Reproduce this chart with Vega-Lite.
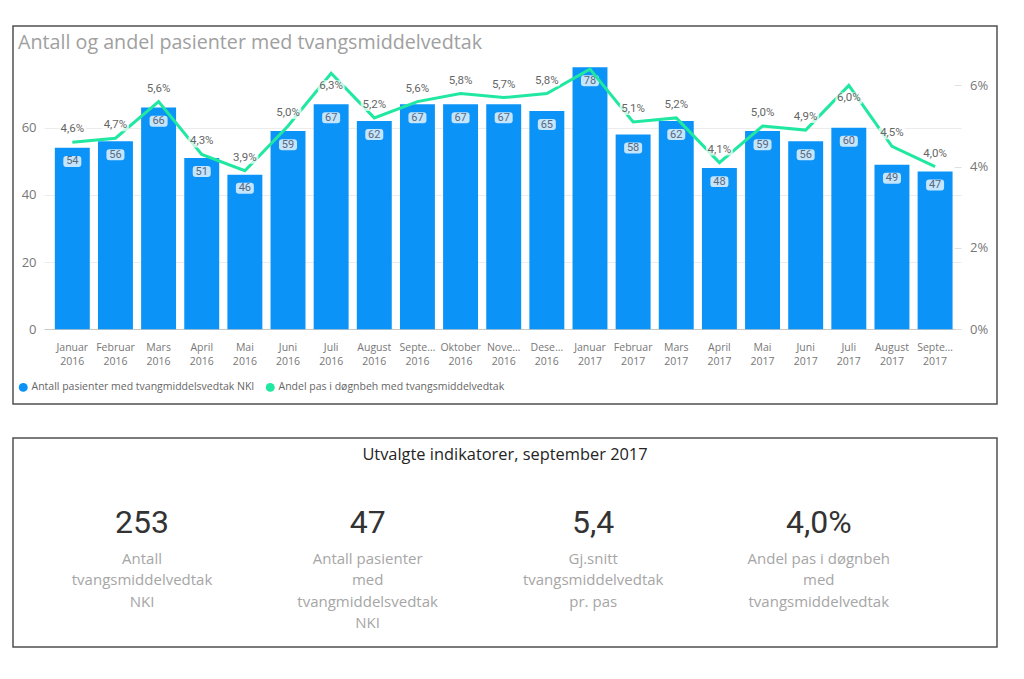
{
  "$schema": "https://vega.github.io/schema/vega-lite/v6.json",
  "background": "white",
  "padding": {"left": 12, "top": 25, "right": 0, "bottom": 0},
  "spacing": 32,
  "datasets": {
    "months": [
      {"maned": "Januar 2016", "antall": 54, "andel": 0.046},
      {"maned": "Februar 2016", "antall": 56, "andel": 0.047},
      {"maned": "Mars 2016", "antall": 66, "andel": 0.056},
      {"maned": "April 2016", "antall": 51, "andel": 0.043},
      {"maned": "Mai 2016", "antall": 46, "andel": 0.039},
      {"maned": "Juni 2016", "antall": 59, "andel": 0.050},
      {"maned": "Juli 2016", "antall": 67, "andel": 0.063},
      {"maned": "August 2016", "antall": 62, "andel": 0.052},
      {"maned": "September 2016", "antall": 67, "andel": 0.056},
      {"maned": "Oktober 2016", "antall": 67, "andel": 0.058},
      {"maned": "November 2016", "antall": 67, "andel": 0.057},
      {"maned": "Desember 2016", "antall": 65, "andel": 0.058},
      {"maned": "Januar 2017", "antall": 78, "andel": 0.064},
      {"maned": "Februar 2017", "antall": 58, "andel": 0.051},
      {"maned": "Mars 2017", "antall": 62, "andel": 0.052},
      {"maned": "April 2017", "antall": 48, "andel": 0.041},
      {"maned": "Mai 2017", "antall": 59, "andel": 0.050},
      {"maned": "Juni 2017", "antall": 56, "andel": 0.049},
      {"maned": "Juli 2017", "antall": 60, "andel": 0.060},
      {"maned": "August 2017", "antall": 49, "andel": 0.045},
      {"maned": "September 2017", "antall": 47, "andel": 0.040}
    ],
    "kpi": [
      {"etikett": "Antall\ntvangsmiddelvedtak\nNKI", "verdi": "253"},
      {"etikett": "Antall pasienter\nmed\ntvangmiddelsvedtak\nNKI", "verdi": "47"},
      {"etikett": "Gj.snitt\ntvangsmiddelvedtak\npr. pas", "verdi": "5,4"},
      {"etikett": "Andel pas i døgnbeh\nmed\ntvangsmiddelvedtak", "verdi": "4,0%"}
    ]
  },
  "vconcat": [
    {
      "width": 984,
      "height": 378,
      "title": {
        "text": "Antall og andel pasienter med tvangsmiddelvedtak",
        "anchor": "start",
        "frame": "group",
        "offset": -43,
        "baseline": "alphabetic",
        "dx": 5,
        "font": "Open Sans",
        "fontSize": 19.7,
        "fontWeight": "normal",
        "color": "#a0a0a0"
      },
      "data": {"name": "months"},
      "encoding": {
        "x": {
          "field": "maned",
          "type": "nominal",
          "sort": null,
          "title": null,
          "scale": {"paddingInner": 0.19, "paddingOuter": 1.208, "align": 0.485},
          "axis": {
            "orient": "bottom",
            "offset": -62,
            "ticks": false,
            "domain": false,
            "grid": false,
            "labelPadding": 0,
            "labelAngle": 0,
            "labelBaseline": "top",
            "labelFont": "Open Sans",
            "labelFontSize": 10.5,
            "labelColor": "#777777",
            "labelLineHeight": 14.5,
            "labelLimit": 42,
            "labelExpr": "split(datum.label, ' ')"
          }
        }
      },
      "layer": [
        {
          "layer": [
            {
              "mark": {"type": "bar"},
              "encoding": {
                "y": {
                  "field": "antall",
                  "type": "quantitative",
                  "title": null,
                  "scale": {"domain": [-22.23, 90.27], "nice": false, "zero": false},
                  "axis": {
                    "orient": "left",
                    "values": [0, 20, 40, 60],
                    "offset": -31,
                    "domain": false,
                    "grid": false,
                    "ticks": true,
                    "tickSize": -917,
                    "tickWidth": 1,
                    "tickColor": {"condition": {"test": "datum.value === 0", "value": "#c8c8c8"}, "value": "#ececec"},
                    "labelPadding": 925,
                    "labelFont": "Open Sans",
                    "labelFontSize": 13,
                    "labelColor": "#777777"
                  }
                },
                "y2": {"datum": 0},
                "color": {
                  "datum": "Antall pasienter med tvangmiddelsvedtak NKI",
                  "type": "nominal",
                  "scale": {
                    "domain": ["Antall pasienter med tvangmiddelsvedtak NKI", "Andel pas i døgnbeh med tvangsmiddelvedtak"],
                    "range": ["#0B93F8", "#20E8A0"]
                  },
                  "legend": {
                    "orient": "none",
                    "legendX": 5,
                    "legendY": 356,
                    "direction": "horizontal",
                    "title": null,
                    "symbolType": "circle",
                    "symbolSize": 80,
                    "symbolStrokeWidth": 0,
                    "labelFont": "Open Sans",
                    "labelFontSize": 10.5,
                    "labelColor": "#666666",
                    "labelOffset": 3,
                    "labelLimit": 400,
                    "columnPadding": 10,
                    "encode": {
                      "symbols": {"update": {"fill": {"scale": "color", "field": "value"}, "stroke": {"value": "transparent"}, "opacity": {"value": 1}}}
                    }
                  }
                }
              }
            },
            {
              "mark": {
                "type": "point",
                "shape": "M -0.67 -0.61 L 0.67 -0.61 Q 1 -0.61 1 -0.28 L 1 0.28 Q 1 0.61 0.67 0.61 L -0.67 0.61 Q -1 0.61 -1 0.28 L -1 -0.28 Q -1 -0.61 -0.67 -0.61 Z",
                "size": 324,
                "filled": true,
                "fill": "white",
                "fillOpacity": 0.76,
                "opacity": 1,
                "strokeWidth": 0,
                "yOffset": 13.6
              },
              "encoding": {
                "y": {"field": "antall", "type": "quantitative"}
              }
            },
            {
              "mark": {
                "type": "text",
                "font": "Roboto",
                "fontSize": 11,
                "color": "#5b6878",
                "baseline": "middle",
                "dy": 13.6
              },
              "encoding": {
                "y": {"field": "antall", "type": "quantitative"},
                "text": {"field": "antall", "type": "quantitative", "format": "d"}
              }
            }
          ]
        },
        {
          "layer": [
            {
              "mark": {"type": "line", "strokeWidth": 3},
              "encoding": {
                "y": {
                  "field": "andel",
                  "type": "quantitative",
                  "title": null,
                  "scale": {"domain": [-0.01838, 0.07461], "nice": false, "zero": false},
                  "axis": {
                    "orient": "right",
                    "values": [0, 0.02, 0.04, 0.06],
                    "format": ".0%",
                    "offset": -43,
                    "domain": false,
                    "grid": false,
                    "ticks": true,
                    "tickSize": 7,
                    "tickColor": "#e0e0e0",
                    "labelPadding": 8.5,
                    "labelFont": "Open Sans",
                    "labelFontSize": 13,
                    "labelColor": "#777777"
                  }
                },
                "color": {"datum": "Andel pas i døgnbeh med tvangsmiddelvedtak", "type": "nominal"}
              }
            },
            {
              "transform": [{"filter": "datum.andel < 0.0595"}],
              "mark": {
                "type": "point",
                "shape": "M -0.78 -0.444 L 0.78 -0.444 Q 1 -0.444 1 -0.222 L 1 0.222 Q 1 0.444 0.78 0.444 L -0.78 0.444 Q -1 0.444 -1 0.222 L -1 -0.222 Q -1 -0.444 -0.78 -0.444 Z",
                "size": 729,
                "filled": true,
                "fill": "white",
                "fillOpacity": 0.72,
                "opacity": 1,
                "strokeWidth": 0,
                "yOffset": -13
              },
              "encoding": {"y": {"field": "andel", "type": "quantitative"}}
            },
            {
              "transform": [{"filter": "datum.andel < 0.0595"}],
              "mark": {"type": "text", "font": "Roboto", "fontSize": 11.5, "color": "#666666", "baseline": "middle", "dy": -13},
              "encoding": {
                "y": {"field": "andel", "type": "quantitative"},
                "text": {"field": "andel", "type": "quantitative", "format": ".1%"}
              }
            },
            {
              "transform": [{"filter": "datum.andel >= 0.0595 && datum.andel < 0.0635"}],
              "mark": {
                "type": "point",
                "shape": "M -0.78 -0.444 L 0.78 -0.444 Q 1 -0.444 1 -0.222 L 1 0.222 Q 1 0.444 0.78 0.444 L -0.78 0.444 Q -1 0.444 -1 0.222 L -1 -0.222 Q -1 -0.444 -0.78 -0.444 Z",
                "size": 729,
                "filled": true,
                "fill": "white",
                "fillOpacity": 0.72,
                "opacity": 1,
                "strokeWidth": 0,
                "yOffset": 13
              },
              "encoding": {"y": {"field": "andel", "type": "quantitative"}}
            },
            {
              "transform": [{"filter": "datum.andel >= 0.0595 && datum.andel < 0.0635"}],
              "mark": {"type": "text", "font": "Roboto", "fontSize": 11.5, "color": "#666666", "baseline": "middle", "dy": 13},
              "encoding": {
                "y": {"field": "andel", "type": "quantitative"},
                "text": {"field": "andel", "type": "quantitative", "format": ".1%"}
              }
            }
          ]
        }
      ],
      "resolve": {"scale": {"y": "independent"}}
    },
    {
      "width": 984,
      "height": 209,
      "title": {
        "text": "Utvalgte indikatorer, september 2017",
        "anchor": "middle",
        "frame": "group",
        "offset": -38.5,
        "baseline": "alphabetic",
        "font": "Open Sans",
        "fontSize": 16.4,
        "fontWeight": "normal",
        "color": "#252423"
      },
      "data": {"name": "kpi"},
      "encoding": {
        "x": {
          "field": "etikett",
          "type": "nominal",
          "sort": null,
          "scale": {"type": "point", "padding": 0.681, "align": 0.42},
          "axis": null
        }
      },
      "layer": [
        {
          "mark": {"type": "text", "font": "Roboto", "fontSize": 32, "color": "#333333", "baseline": "alphabetic", "dy": -10},
          "encoding": {"text": {"field": "verdi", "type": "nominal"}}
        },
        {
          "mark": {"type": "text", "font": "Open Sans", "fontSize": 15, "color": "#a6a6a6", "baseline": "alphabetic", "dy": 21, "lineBreak": "\n", "lineHeight": 21.5},
          "encoding": {"text": {"field": "etikett", "type": "nominal"}}
        }
      ]
    }
  ],
  "config": {
    "font": "Open Sans",
    "view": {"stroke": "#505050", "strokeWidth": 1.5},
    "locale": {"number": {"decimal": ",", "thousands": " ", "grouping": [3], "currency": ["", " kr"]}}
  }
}
